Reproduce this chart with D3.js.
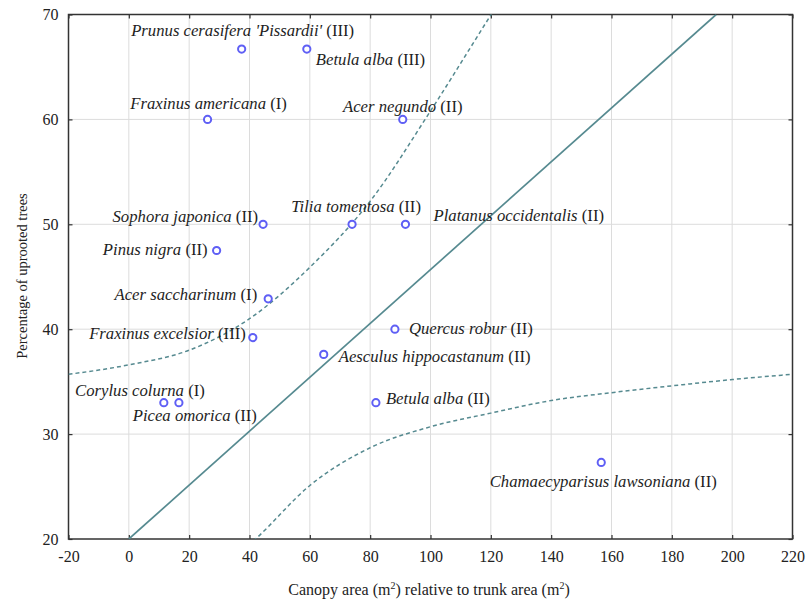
<!DOCTYPE html>
<html>
<head>
<meta charset="utf-8">
<script src="https://cdn.jsdelivr.net/npm/d3@7"></script>
<style>
  html, body { margin: 0; padding: 0; background: #fff; }
  svg { display: block; }
  svg text { font-family: "Liberation Serif", "DejaVu Serif", serif; }
  .grid line { stroke: #dcdcdc; stroke-width: 1; }
  .tick-label { font-size: 16px; fill: #222; }
  .pt-label { font-size: 16.7px; fill: #1e1e1e; }
  .axis-title { font-size: 16px; fill: #222; }
</style>
</head>
<body>
<svg width="808" height="603"></svg>
<script>
// species names (italic part) and their class (roman part)
const species = [
  "Prunus cerasifera 'Pissardii'", "Betula alba", "Fraxinus americana", "Acer negundo",
  "Sophora japonica", "Tilia tomentosa", "Platanus occidentalis", "Pinus nigra",
  "Acer saccharinum", "Fraxinus excelsior", "Quercus robur", "Aesculus hippocastanum",
  "Betula alba", "Corylus colurna", "Picea omorica", "Chamaecyparisus lawsoniana"
];
const classes = ["III", "III", "I", "II", "II", "II", "II", "II", "I", "III", "II", "II", "II", "I", "II", "II"];
const canopyRatio = [37.4, 59.0, 26.1, 90.8, 44.5, 74.0, 91.7, 29.1, 46.2, 41.1, 88.2, 64.6, 81.9, 11.6, 16.6, 156.6];
const uprootedPct = [66.7, 66.7, 60.0, 60.0, 50.0, 50.0, 50.0, 47.5, 42.9, 39.2, 40.0, 37.6, 33.0, 33.0, 33.0, 27.3];

// fitted line and its dashed bands
const fitLine = [[0, 20], [194.7, 70]];
const upperBand = [[-20, 35.7], [0, 36.6], [20, 38.0], [40, 41.0], [60, 45.9], [80, 52.2], [100, 60.8], [120.1, 70], [130, 74.5]];
const lowerBand = [[36, 18.5], [42, 20], [60, 25.1], [80, 28.7], [100, 30.7], [120, 32.0], [140, 33.2], [160, 33.95], [180, 34.6], [200, 35.2], [220, 35.7]];

const xTicks = d3.range(-20, 221, 20);
const yTicks = d3.range(20, 71, 10);

// label placement relative to each point: [anchor, dx, dy]
const labelPlace = [
  ["middle", 1, -13], ["start", 9, 16], ["middle", 1, -10], ["middle", 0, -7],
  ["end", -5, -2], ["middle", 4, -12], ["start", 28, -3], ["end", -9, 4],
  ["end", -11, 1], ["end", -7, 1], ["start", 14, 5], ["start", 15, 8],
  ["start", 10, 1], ["end", 41, -7], ["end", 78, 18], ["middle", 2, 25]
];

const svg = d3.select("svg");
const L = 68.5, R = 792.5, T = 14.5, B = 539;

const x = d3.scaleLinear().domain([-20, 220]).range([L, R]);
const y = d3.scaleLinear().domain([20, 70]).range([B, T]);

svg.append("defs").append("clipPath").attr("id", "plot")
  .append("rect").attr("x", L).attr("y", T).attr("width", R - L).attr("height", B - T);

// grid
const grid = svg.append("g").attr("class", "grid");
grid.selectAll(".gx").data(xTicks.slice(1, -1)).enter().append("line")
  .attr("x1", d => x(d)).attr("x2", d => x(d)).attr("y1", T).attr("y2", B);
grid.selectAll(".gy").data(yTicks.slice(1, -1)).enter().append("line")
  .attr("x1", L).attr("x2", R).attr("y1", d => y(d)).attr("y2", d => y(d));

// axes with inward ticks, labels on bottom and left
const axisStyle = g => {
  g.attr("font-family", null).attr("font-size", null);
  g.select(".domain").remove();
  g.selectAll(".tick line").attr("stroke", "#333").attr("stroke-width", 1.2);
  g.selectAll("text").attr("class", "tick-label").attr("fill", null);
};
const fmt = d => String(d);
svg.append("g").attr("transform", `translate(0,${B})`)
  .call(d3.axisBottom(x).tickValues(xTicks).tickFormat(fmt).tickSizeInner(-4).tickSizeOuter(0).tickPadding(12))
  .call(axisStyle);
svg.append("g").attr("transform", `translate(${L},0)`)
  .call(d3.axisLeft(y).tickValues(yTicks).tickFormat(fmt).tickSizeInner(-4).tickSizeOuter(0).tickPadding(10))
  .call(axisStyle);
svg.append("g").attr("transform", `translate(0,${T})`)
  .call(d3.axisTop(x).tickValues(xTicks).tickSizeInner(-4).tickSizeOuter(0).tickFormat(""))
  .call(axisStyle);
svg.append("g").attr("transform", `translate(${R},0)`)
  .call(d3.axisRight(y).tickValues(yTicks).tickSizeInner(-4).tickSizeOuter(0).tickFormat(""))
  .call(axisStyle);

// frame
svg.append("rect").attr("x", L).attr("y", T).attr("width", R - L).attr("height", B - T)
  .attr("fill", "none").attr("stroke", "#333").attr("stroke-width", 1.5);

// fit line and bands
const lineGen = d3.line().x(d => x(d[0])).y(d => y(d[1]));
const curveGen = d3.line().x(d => x(d[0])).y(d => y(d[1])).curve(d3.curveMonotoneX);
const lines = svg.append("g").attr("clip-path", "url(#plot)");
lines.append("path").datum(fitLine).attr("d", lineGen)
  .attr("fill", "none").attr("stroke", "#568a90").attr("stroke-width", 1.7);
[upperBand, lowerBand].forEach(band => {
  lines.append("path").datum(band).attr("d", curveGen)
    .attr("fill", "none").attr("stroke", "#568a90").attr("stroke-width", 1.5)
    .attr("stroke-dasharray", "4,3");
});

// points
const pts = species.map((s, i) => ({ name: s, cls: classes[i], cx: canopyRatio[i], cy: uprootedPct[i], place: labelPlace[i] }));

svg.append("g").selectAll("circle").data(pts).enter().append("circle")
  .attr("cx", d => x(d.cx)).attr("cy", d => y(d.cy)).attr("r", 3.6)
  .attr("fill", "#fff").attr("stroke", "#5f5ff5").attr("stroke-width", 2);

const lbl = svg.append("g").selectAll("text").data(pts).enter().append("text")
  .attr("class", "pt-label")
  .attr("x", d => x(d.cx) + d.place[1])
  .attr("y", d => y(d.cy) + d.place[2])
  .attr("text-anchor", d => d.place[0]);
lbl.append("tspan").attr("font-style", "italic").text(d => d.name);
lbl.append("tspan").text(d => " (" + d.cls + ")");

// axis titles
const xt = svg.append("text").attr("class", "axis-title")
  .attr("x", 429).attr("y", 595).attr("text-anchor", "middle");
xt.append("tspan").text("Canopy area (m");
xt.append("tspan").attr("dy", -6).attr("font-size", 10).text("2");
xt.append("tspan").attr("dy", 6).text(") relative to trunk area (m");
xt.append("tspan").attr("dy", -6).attr("font-size", 10).text("2");
xt.append("tspan").attr("dy", 6).text(")");

svg.append("text").attr("class", "axis-title")
  .attr("transform", "translate(27,276) rotate(-90)")
  .attr("text-anchor", "middle")
  .style("font-size", "14.5px")
  .text("Percentage of uprooted trees");
</script>
</body>
</html>
